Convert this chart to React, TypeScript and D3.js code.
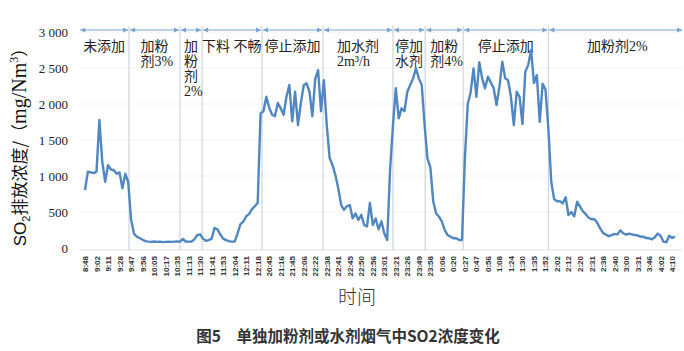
import * as d3 from "d3";

// SO2 concentration readings, one per sample (mg/Nm3)
const so2Values = [
  806, 1060, 1050, 1040, 1060, 1778, 1200, 920, 1150, 1090,
  1080, 1030, 1050, 830, 1030, 920, 400, 200, 157, 139,
  115, 95, 88, 85, 90, 85, 88, 82, 85, 88,
  85, 88, 90, 88, 125, 90, 88, 90, 120, 180,
  190, 130, 100, 110, 130, 278, 260, 190, 130, 110,
  95, 88, 88, 200, 330, 365, 440, 470, 540, 580,
  625, 1870, 1900, 2100, 1950, 1850, 1830, 2014, 1940, 1850,
  2100, 2264, 1760, 2170, 1708, 2010, 2260, 2287, 2170, 1830,
  2350, 2472, 1900, 2330, 1708, 1250, 1150, 1014, 830, 600,
  530, 580, 597, 412, 480, 390, 460, 320, 300, 625,
  320, 410, 260, 370, 200, 111, 1080, 1700, 2220, 1800,
  1940, 1900, 2170, 2264, 2356, 2495, 2356, 2264, 1708, 1240,
  1120, 650, 480, 435, 365, 250, 180, 157, 135, 135,
  111, 111, 1250, 2000, 2160, 2495, 2100, 2580, 2356, 2218,
  2380, 2300, 2218, 1986, 2240, 2588, 2356, 2330, 2100, 1708,
  2170, 2100, 1720, 2450, 2540, 2750, 2290, 2400, 1750, 2280,
  2200, 1667, 920, 680, 650, 650, 620, 705, 458, 500,
  440, 643, 575, 510, 470, 420, 400, 400, 350, 273,
  210, 185, 165, 180, 195, 190, 245, 205, 185, 200,
  190, 180, 175, 157, 157, 138, 135, 120, 150, 200,
  170, 88, 80, 170, 140, 157,
];

// time label shown every 4th sample
const timeLabels = [
  "8:48", "9:02", "9:11", "9:28", "9:47", "9:56", "10:05", "10:17", "10:35",
  "11:13", "11:30", "11:41", "11:53", "12:04", "12:11", "12:18", "20:45",
  "21:16", "21:45", "22:06", "22:22", "22:38", "22:41", "22:45", "22:50",
  "22:56", "23:01", "23:21", "23:26", "23:49", "23:58", "0:06", "0:20",
  "0:27", "0:47", "0:56", "1:08", "1:24", "1:30", "1:35", "1:52", "2:02",
  "2:12", "2:20", "2:31", "2:38", "2:40", "3:00", "3:31", "3:46", "4:02",
  "4:10",
];
const labelStep = 4;

const yTicks = [0, 500, 1000, 1500, 2000, 2500, 3000];

// phase boundaries (sample index) and their labels
const phaseBounds = [-2, 15.3, 33, 40.7, 61.5, 82.7, 107, 118.2, 131.4, 161, 208.5];
const phaseLabels = [
  ["未添加"],
  ["加粉", "剂3%"],
  ["加", "粉", "剂", "2%"],
  ["下料 不畅"],
  ["停止添加"],
  ["加水剂", "2m³/h"],
  ["停加", "水剂"],
  ["加粉", "剂4%"],
  ["停止添加"],
  ["加粉剂2%"],
];

const W = 684;
const H = 351;
const serif = "'Liberation Serif', 'Noto Sans CJK SC', serif";
const cjk = "'Noto Sans CJK SC', sans-serif";

const textWidth = (s: string, fs: number) =>
  Array.from(s).reduce((w, c) => w + (/[\u3000-\u9fff\uff00-\uffef]/.test(c) ? fs : c === " " ? fs * 0.3 : fs * 0.52), 0);

export default function App() {
  const x = d3.scaleLinear().domain([0, 204]).range([85, 672.1]);
  const y = d3.scaleLinear().domain([0, 3000]).range([248, 32]);

  const line = d3
    .line<number>()
    .x((_, i) => x(i))
    .y((d) => y(d));

  const fmt = (v: number) => d3.format(",")(v).replace(",", " ");
  const arrowY = 30;
  const annoFs = 14;

  return (
    <svg
      width={W}
      height={H}
      style={{ position: "absolute", left: 0, top: 0, background: "#fff" }}
    >
      {/* faint grid */}
      {yTicks.slice(1).map((t) => (
        <line key={t} x1={80} x2={682} y1={y(t)} y2={y(t)} stroke="#eef1f4" strokeWidth={1} />
      ))}
      <line x1={80} x2={682} y1={y(0) + 2} y2={y(0) + 2} stroke="#dde2e7" strokeWidth={1} />

      {/* phase dividers */}
      {phaseBounds.slice(1, -1).map((b) => (
        <line key={b} x1={x(b)} x2={x(b)} y1={26} y2={250} stroke="#c3ccd6" strokeWidth={1} />
      ))}

      {/* phase arrows */}
      {phaseLabels.map((_, k) => {
        const x0 = x(phaseBounds[k]) + 1;
        const x1 = Math.min(x(phaseBounds[k + 1]) - 1, 682);
        return (
          <g key={k} fill="#7aa3cf" stroke="#7aa3cf">
            <line x1={x0} x2={x1} y1={arrowY} y2={arrowY} strokeWidth={1} />
            <path d={`M${x0},${arrowY}l5,-2.5v5z`} stroke="none" />
            <path d={`M${x1},${arrowY}l-5,-2.5v5z`} stroke="none" />
          </g>
        );
      })}

      {/* phase labels */}
      {phaseLabels.map((lines, k) => {
        const right = Math.min(x(phaseBounds[k + 1]), 682);
        const cx = (x(phaseBounds[k]) + right) / 2;
        const x0 = cx - textWidth(lines[0], annoFs) / 2;
        return (
          <text key={k} fontFamily={serif} fontSize={annoFs} fill="#222">
            {lines.map((s, j) => (
              <tspan key={j} x={x0} y={51 + j * 15}>
                {s}
              </tspan>
            ))}
          </text>
        );
      })}

      {/* data line */}
      <path d={line(so2Values) ?? ""} fill="none" stroke="#5087c1" strokeWidth={2.4} strokeLinejoin="round" />

      {/* y tick labels */}
      {yTicks.map((t) => (
        <text key={t} x={68} y={y(t) + 4.5} textAnchor="end" fontFamily={serif} fontSize={13} fill="#222">
          {fmt(t)}
        </text>
      ))}

      {/* x tick labels */}
      {timeLabels.map((lab, k) => (
        <text
          key={lab + k}
          transform={`translate(${x(k * labelStep) + 3},256) rotate(-90)`}
          textAnchor="end"
          fontFamily="'Liberation Sans', sans-serif"
          fontSize={8}
          fontWeight="bold"
          fill="#333"
        >
          {lab}
        </text>
      ))}

      {/* y axis title */}
      <text transform="translate(26,143) rotate(-90)" textAnchor="middle" fill="#111" fontSize={17} fontFamily={cjk}>
        <tspan fontFamily="'Liberation Sans', sans-serif">SO</tspan>
        <tspan fontSize={11} dy={4} fontFamily="'Liberation Sans', sans-serif">2</tspan>
        <tspan dy={-4}>排放浓度/（</tspan>
        <tspan fontFamily={serif} fontSize={20}>mg/Nm</tspan>
        <tspan fontFamily={serif} fontSize={12} dy={-8}>3</tspan>
        <tspan dy={8}>）</tspan>
      </text>

      {/* x axis title */}
      <text x={357} y={304} textAnchor="middle" fontFamily={cjk} fontSize={19} fill="#333" fontWeight={300}>
        时间
      </text>

      {/* caption */}
      <text x={348} y={342} textAnchor="middle" fontFamily={cjk} fontSize={15.5} fontWeight="bold" fill="#333">
        图5　单独加粉剂或水剂烟气中SO2浓度变化
      </text>
    </svg>
  );
}
